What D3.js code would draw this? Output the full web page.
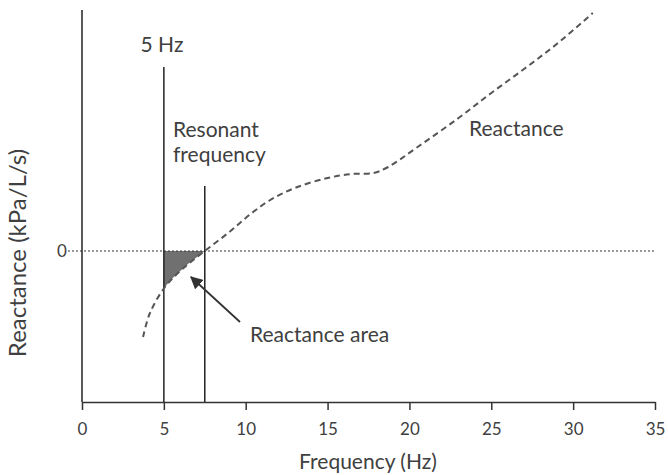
<!DOCTYPE html>
<html>
<head>
<meta charset="utf-8">
<script src="https://cdn.jsdelivr.net/npm/d3@7"></script>
<style>
  body { margin: 0; background: #fff; }
  text { font-family: Lato, "Open Sans", sans-serif; fill: #404040; }
</style>
</head>
<body>
<div id="chart"></div>
<script>
// reactance curve (Hz, arbitrary kPa/L/s units)
const freq = [3.73, 4.15, 5.07, 6.2, 7.5, 9, 10.3, 11.5, 13, 15, 16.5, 17.8, 18.7, 20.5, 23, 25, 27, 29, 31.2];
const reactance = [-0.86, -0.62, -0.36, -0.17, 0, 0.19, 0.37, 0.51, 0.63, 0.73, 0.77, 0.78, 0.84, 1.04, 1.33, 1.58, 1.82, 2.07, 2.38];
const xTicks = [0, 5, 10, 15, 20, 25, 30, 35];
const fStart = 5;      // 5 Hz marker
const fRes = 7.5;      // resonant frequency

const W = 668, H = 475;
const margin = { top: 10, right: 13, bottom: 73, left: 82 };
const width = W - margin.left - margin.right;
const height = H - margin.top - margin.bottom;

const svg = d3.select("#chart").append("svg")
  .attr("width", W).attr("height", H);
const g = svg.append("g").attr("transform", `translate(${margin.left},${margin.top})`);

const x = d3.scaleLinear().domain([0, 35]).range([0, width]);
const y = d3.scaleLinear().domain([-1.51, 2.41]).range([height, 0]);

const data = freq.map((f, i) => ({ f, v: reactance[i] }));
const curve = d3.curveCatmullRom;

// shaded reactance area between 5 Hz and resonant frequency
g.append("clipPath").attr("id", "ax")
  .append("rect")
    .attr("x", x(fStart)).attr("y", 0)
    .attr("width", x(fRes) - x(fStart)).attr("height", height);

g.append("path")
  .datum(data)
  .attr("clip-path", "url(#ax)")
  .attr("fill", "#707070")
  .attr("d", d3.area().x(d => x(d.f)).y0(y(0)).y1(d => y(d.v)).curve(curve));

// zero line
g.append("line")
  .attr("x1", -14).attr("x2", width)
  .attr("y1", y(0)).attr("y2", y(0))
  .attr("stroke", "#333").attr("stroke-width", 1)
  .attr("stroke-dasharray", "2,2");

// x axis
const xAxis = g.append("g")
  .attr("transform", `translate(0,${height})`)
  .call(d3.axisBottom(x).tickValues(xTicks).tickSize(8).tickSizeOuter(0));
xAxis.select(".domain").attr("stroke", "#333").attr("stroke-width", 1.5);
xAxis.selectAll(".tick line").attr("stroke", "#333").attr("stroke-width", 1.5);
xAxis.selectAll("text")
  .attr("y", 33).attr("dy", null)
  .style("font-size", "17px")
  .style("font-family", "Lato, sans-serif")
  .attr("fill", "#404040");

// y axis
g.append("line")
  .attr("x1", 0).attr("x2", 0).attr("y1", 0).attr("y2", height)
  .attr("stroke", "#222").attr("stroke-width", 1.5);

g.append("text")
  .attr("x", -20).attr("y", y(0)).attr("dy", "0.35em")
  .attr("text-anchor", "middle")
  .style("font-size", "17px")
  .text("0");

// vertical markers
g.append("line")
  .attr("x1", x(fStart)).attr("x2", x(fStart))
  .attr("y1", 57).attr("y2", height)
  .attr("stroke", "#222").attr("stroke-width", 1.5);
g.append("line")
  .attr("x1", x(fRes)).attr("x2", x(fRes))
  .attr("y1", 176).attr("y2", height)
  .attr("stroke", "#222").attr("stroke-width", 1.5);

// reactance curve
g.append("path")
  .datum(data)
  .attr("fill", "none")
  .attr("stroke", "#555")
  .attr("stroke-width", 2)
  .attr("stroke-dasharray", "6,4")
  .attr("d", d3.line().x(d => x(d.f)).y(d => y(d.v)).curve(curve));

// arrow
svg.append("defs").append("marker")
  .attr("id", "arr")
  .attr("viewBox", "0 0 10 10")
  .attr("refX", 9).attr("refY", 5)
  .attr("markerWidth", 7).attr("markerHeight", 7)
  .attr("orient", "auto")
  .append("path").attr("d", "M0,0L10,5L0,10z").attr("fill", "#333");

g.append("line")
  .attr("x1", 240 - margin.left).attr("y1", 322 - margin.top)
  .attr("x2", 191 - margin.left).attr("y2", 277 - margin.top)
  .attr("stroke", "#333").attr("stroke-width", 1.8)
  .attr("marker-end", "url(#arr)");

// annotations
const note = (tx, ty, s, anchor) => svg.append("text")
  .attr("x", tx).attr("y", ty)
  .attr("text-anchor", anchor || "start")
  .style("font-size", "21px")
  .text(s);
note(162, 52, "5 Hz", "middle");
note(173, 137, "Resonant");
note(173, 162, "frequency");
note(469, 136, "Reactance");
note(250, 342, "Reactance area");

// axis titles
svg.append("text")
  .attr("x", 368).attr("y", 469)
  .attr("text-anchor", "middle")
  .style("font-size", "21px")
  .text("Frequency (Hz)");

svg.append("text")
  .attr("transform", `translate(26,253) rotate(-90)`)
  .attr("text-anchor", "middle")
  .style("font-size", "24px")
  .text("Reactance (kPa/L/s)");
</script>
</body>
</html>
